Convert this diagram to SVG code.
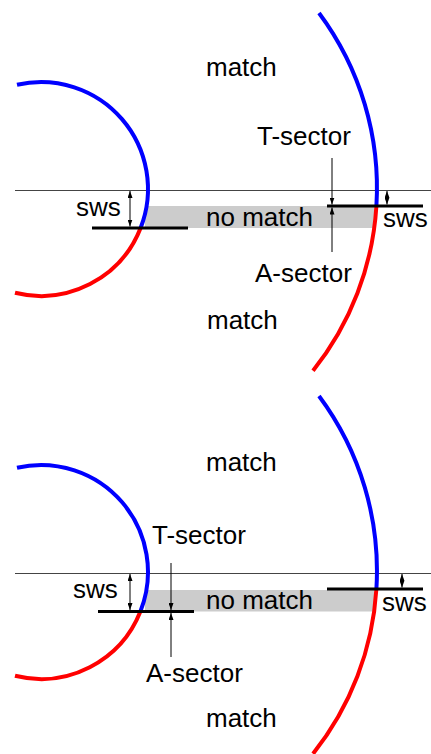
<svg xmlns="http://www.w3.org/2000/svg" width="431" height="754" viewBox="0 0 431 754">
<style>
text{font-family:"Liberation Sans",Arial,sans-serif;font-size:26px;fill:#000}
.ref{stroke:#444;stroke-width:1;fill:none}
.bar{stroke:#000;stroke-width:3;fill:none}
.gap{fill:#cccccc;stroke:none}
.blue{stroke:#0000ff;stroke-width:4;fill:none}
.red{stroke:#ff0000;stroke-width:4;fill:none}
.arr{stroke:#000;stroke-width:1;fill:none}
.dbl{marker-start:url(#ah);marker-end:url(#ah)}
.one{marker-end:url(#ah)}
</style>
<defs>
<marker id="ah" viewBox="0 0 7 5" refX="7" refY="2.5" markerWidth="7" markerHeight="5" markerUnits="userSpaceOnUse" orient="auto-start-reverse">
<path d="M0,0 L7,2.5 L0,5 z" fill="#000"/>
</marker>
</defs>

<g id="panel-top">
<rect id="nomatch-area-top" class="gap" x="145" y="206" width="229" height="22"/>
<line id="ref-top" class="ref" x1="15" y1="190.5" x2="431" y2="190.5"/>
<g id="circle-left-top">
<path class="blue" d="M17,84.7 A107,107 0 0 1 140.6,228"/>
<path class="red" d="M140.6,228 A107,107 0 0 1 15,292.8"/>
</g>
<g id="circle-right-top">
<path class="blue" d="M319,13 A293,293 0 0 1 376.4,206"/>
<path class="red" d="M376.4,206 A293,293 0 0 1 313,370.8"/>
</g>
<line id="bar-left-top" class="bar" x1="92" y1="228" x2="188" y2="228"/>
<line id="bar-right-top" class="bar" x1="327" y1="206" x2="423" y2="206"/>
<g id="arrows-top">
<line class="arr dbl" x1="130" y1="191" x2="130" y2="226.5"/>
<line class="arr dbl" x1="387" y1="191" x2="387" y2="204.5"/>
<line class="arr one" x1="332" y1="158" x2="332" y2="204.5"/>
<line class="arr one" x1="332" y1="252" x2="332" y2="207.5"/>
</g>
<g id="labels-top">
<text x="206" y="76">match</text>
<text x="257" y="145">T-sector</text>
<text x="76" y="216">sws</text>
<text x="206" y="226">no match</text>
<text x="383" y="227">sws</text>
<text x="255" y="282">A-sector</text>
<text x="207" y="329">match</text>
</g>
</g>

<g id="panel-bottom">
<rect id="nomatch-area-bottom" class="gap" x="145" y="590" width="229" height="21.5"/>
<line id="ref-bottom" class="ref" x1="15" y1="573.5" x2="431" y2="573.5"/>
<g id="circle-left-bottom">
<path class="blue" d="M17,467.7 A107,107 0 0 1 140.4,611.5"/>
<path class="red" d="M140.4,611.5 A107,107 0 0 1 15,675.8"/>
</g>
<g id="circle-right-bottom">
<path class="blue" d="M319,396 A293,293 0 0 1 376.4,589"/>
<path class="red" d="M376.4,589 A293,293 0 0 1 313,753.8"/>
</g>
<line id="bar-left-bottom" class="bar" x1="98" y1="611.5" x2="194" y2="611.5"/>
<line id="bar-right-bottom" class="bar" x1="327" y1="589" x2="423" y2="589"/>
<g id="arrows-bottom">
<line class="arr dbl" x1="130" y1="574" x2="130" y2="610"/>
<line class="arr dbl" x1="402" y1="574" x2="402" y2="587.5"/>
<line class="arr one" x1="171" y1="563" x2="171" y2="610"/>
<line class="arr one" x1="171" y1="657" x2="171" y2="613"/>
</g>
<g id="labels-bottom">
<text x="206" y="471">match</text>
<text x="152" y="544">T-sector</text>
<text x="73" y="598">sws</text>
<text x="206" y="609">no match</text>
<text x="382" y="611">sws</text>
<text x="146" y="682">A-sector</text>
<text x="206" y="727">match</text>
</g>
</g>
</svg>
